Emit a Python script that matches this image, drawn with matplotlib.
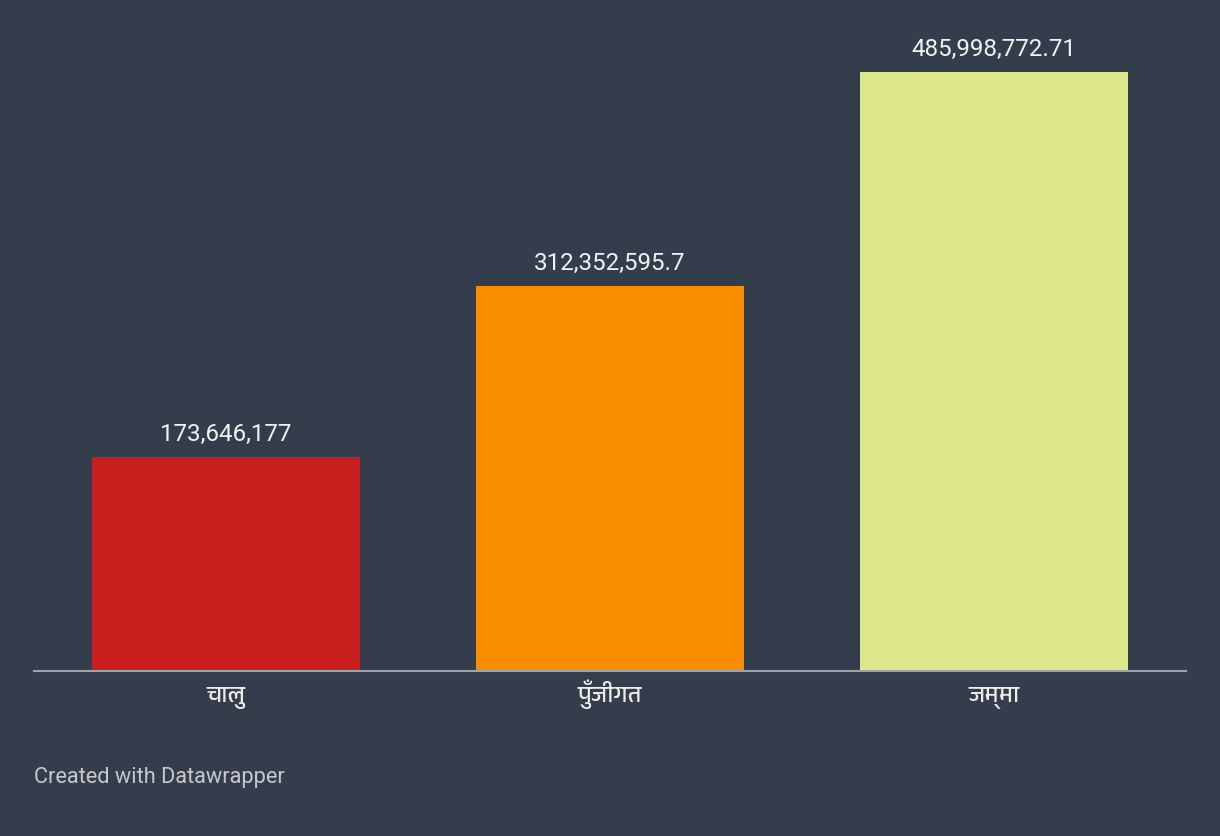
import matplotlib
matplotlib.use("Agg")
import matplotlib.pyplot as plt
from matplotlib import font_manager
from matplotlib.transforms import blended_transform_factory

categories = ["चालु", "पुँजीगत", "जम्मा"]
values = [173646177, 312352595.7, 485998772.71]
value_labels = ["173,646,177", "312,352,595.7", "485,998,772.71"]
colors = ["#c71e1d", "#fa8c00", "#dce78c"]

deva = []
for f in font_manager.fontManager.ttflist:
    if "Devanagari" in f.name or "Lohit" in f.name or "Mukta" in f.name or "Hind" in f.name:
        deva.append(f.name)

bg = "#333d4c"
fig = plt.figure(figsize=(12.2, 8.36), dpi=100, facecolor=bg)
W, H = 1220, 836
ax = fig.add_axes([34 / W, (H - 671) / H, 1152 / W, (671 - 72) / H])
ax.set_facecolor(bg)
x = list(range(len(categories)))
ax.bar(x, values, width=268 / 384, color=colors, zorder=2)
ax.set_xlim(-0.5, 2.5)
ax.set_ylim(0, max(values))
for s in ["top", "right", "left"]:
    ax.spines[s].set_visible(False)
ax.spines["bottom"].set_color("#a0a4aa")
ax.spines["bottom"].set_linewidth(1.5)
ax.set_yticks([])
ax.set_xticks([])
fam = (sorted(set(deva))[:1] if deva else []) + ["Roboto", "DejaVu Sans"]
trans = blended_transform_factory(ax.transData, fig.transFigure)
for xi, cat in zip(x, categories):
    ax.text(xi, 1 - 702 / H, cat, transform=trans, ha="center", va="baseline",
            fontsize=17, color="#eeeeee", family=fam, clip_on=False)
for xi, v, lab in zip(x, values, value_labels):
    ax.annotate(lab, (xi, v), xytext=(0, 8), textcoords="offset points",
                ha="center", va="bottom", fontsize=17.4, color="#f2f2f2",
                family="Roboto", clip_on=False)
fig.text(34 / W, 1 - 778 / H, "Created with Datawrapper", fontsize=15.7,
         color="#c8c8c8", family="Roboto", va="center", ha="left")
fig.savefig("out.png", dpi=100, facecolor=bg)
